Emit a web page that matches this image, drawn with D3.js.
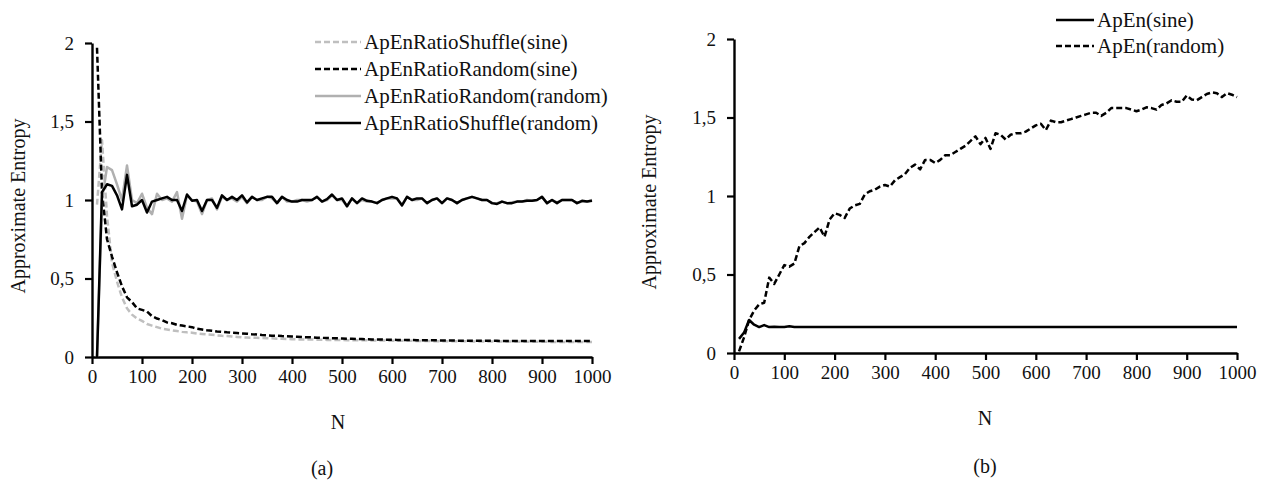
<!DOCTYPE html>
<html lang="en">
<head>
<meta charset="UTF-8">
<title>Approximate Entropy</title>
<script src="https://d3js.org/d3.v7.min.js"></script>
<style>
    body { margin: 0; background: #fff; }
</style>
</head>
<body>
<div id="chart"></div>
<script>
// N values (sampling grid), 10 .. 1000
const nValues = d3.range(10, 1001, 10);

// (a) ratios
const shuffleSine = [
    0.97, 1.38, 0.90, 0.60, 0.48, 0.38, 0.31, 0.27, 0.245, 0.23,
    0.21, 0.20, 0.19, 0.18, 0.175, 0.17, 0.165, 0.16, 0.157, 0.155,
    0.15, 0.147, 0.144, 0.141, 0.138, 0.135, 0.133, 0.131, 0.128, 0.125,
    0.124, 0.123, 0.122, 0.121, 0.12, 0.119, 0.117, 0.116, 0.115, 0.113,
    0.112, 0.112, 0.111, 0.111, 0.11, 0.11, 0.109, 0.109, 0.108, 0.108,
    0.107, 0.107, 0.106, 0.106, 0.106, 0.105, 0.105, 0.105, 0.104, 0.104,
    0.104, 0.103, 0.103, 0.103, 0.102, 0.102, 0.102, 0.101, 0.101, 0.101,
    0.101, 0.100, 0.100, 0.100, 0.100, 0.099, 0.099, 0.099, 0.099, 0.099,
    0.098, 0.098, 0.098, 0.098, 0.098, 0.097, 0.097, 0.097, 0.097, 0.097,
    0.097, 0.096, 0.096, 0.096, 0.096, 0.096, 0.096, 0.096, 0.096, 0.096
];
const randomSine = [
    1.97, 1.05, 0.75, 0.64, 0.54, 0.45, 0.38, 0.35, 0.31, 0.30,
    0.29, 0.26, 0.245, 0.235, 0.22, 0.215, 0.205, 0.20, 0.195, 0.19,
    0.18, 0.175, 0.17, 0.167, 0.163, 0.16, 0.157, 0.155, 0.153, 0.15,
    0.148, 0.145, 0.143, 0.14, 0.138, 0.136, 0.135, 0.133, 0.132, 0.13,
    0.129, 0.127, 0.126, 0.125, 0.123, 0.122, 0.121, 0.12, 0.119, 0.118,
    0.117, 0.116, 0.115, 0.114, 0.113, 0.112, 0.112, 0.111, 0.11, 0.11,
    0.109, 0.109, 0.108, 0.108, 0.107, 0.107, 0.106, 0.106, 0.106, 0.105,
    0.105, 0.105, 0.104, 0.104, 0.104, 0.104, 0.103, 0.103, 0.103, 0.103,
    0.103, 0.102, 0.102, 0.102, 0.102, 0.102, 0.102, 0.102, 0.102, 0.102,
    0.102, 0.102, 0.102, 0.102, 0.102, 0.102, 0.102, 0.102, 0.102, 0.102
];
const randomRandom = [
    0, 1.00, 1.21, 1.19, 1.10, 1.00, 1.22, 1.00, 0.98, 1.04,
    0.95, 0.91, 1.04, 1.00, 1.01, 0.99, 1.05, 0.88, 1.03, 1.00,
    0.99, 0.91, 1.00, 1.01, 0.94, 1.02, 1.00, 1.01, 0.99, 1.02,
    0.98, 1.02, 1.00, 1.00, 1.02, 1.01, 0.98, 1.02, 0.99, 0.99,
    1.00, 1.00, 0.99, 1.00, 1.02, 0.99, 1.00, 1.03, 1.00, 1.00,
    0.96, 1.01, 0.98, 1.00, 0.99, 0.99, 0.98, 1.00, 1.01, 1.01,
    1.01, 0.97, 1.02, 1.00, 1.00, 1.01, 0.98, 1.00, 1.01, 0.98,
    1.01, 1.00, 0.98, 1.00, 1.01, 1.02, 1.01, 1.00, 1.00, 0.98,
    0.98, 0.99, 0.98, 0.985, 0.99, 0.99, 1.00, 0.995, 1.00, 1.02,
    0.98, 1.00, 0.985, 1.00, 1.00, 1.00, 0.98, 0.99, 0.99, 1.00
];
const shuffleRandom = [
    0, 1.05, 1.10, 1.09, 1.03, 0.94, 1.16, 0.96, 0.97, 1.00,
    0.92, 0.99, 1.00, 1.01, 1.02, 1.00, 1.00, 0.93, 1.035, 0.995,
    1.00, 0.93, 1.00, 1.00, 0.95, 1.03, 1.00, 1.02, 1.00, 1.03,
    0.985, 1.02, 1.00, 1.01, 1.02, 1.02, 0.98, 1.02, 1.00, 0.99,
    0.99, 1.00, 1.00, 1.00, 1.02, 0.99, 1.005, 1.035, 1.00, 1.01,
    0.96, 1.01, 0.98, 1.01, 0.995, 0.99, 0.98, 1.00, 1.01, 1.02,
    1.01, 0.965, 1.02, 1.00, 1.01, 1.01, 0.98, 1.00, 1.01, 0.98,
    1.01, 1.00, 0.98, 1.00, 1.01, 1.02, 1.01, 1.00, 1.00, 0.98,
    0.975, 0.99, 0.98, 0.98, 0.99, 0.99, 0.995, 0.995, 1.00, 1.02,
    0.98, 1.00, 0.98, 1.00, 1.00, 1.00, 0.98, 0.995, 0.99, 0.995
];

// (b) raw ApEn
const apenSine = [
    0.09, 0.13, 0.21, 0.18, 0.165, 0.178, 0.165, 0.167, 0.166, 0.166,
    0.17, 0.166, 0.165, 0.165, 0.165, 0.165, 0.165, 0.165, 0.165, 0.165,
    0.165, 0.165, 0.165, 0.165, 0.165, 0.165, 0.165, 0.165, 0.165, 0.165,
    0.165, 0.165, 0.165, 0.165, 0.165, 0.165, 0.165, 0.165, 0.165, 0.165,
    0.165, 0.165, 0.165, 0.165, 0.165, 0.165, 0.165, 0.165, 0.165, 0.165,
    0.165, 0.165, 0.165, 0.165, 0.165, 0.165, 0.165, 0.165, 0.165, 0.165,
    0.165, 0.165, 0.165, 0.165, 0.165, 0.165, 0.165, 0.165, 0.165, 0.165,
    0.165, 0.165, 0.165, 0.165, 0.165, 0.165, 0.165, 0.165, 0.165, 0.165,
    0.165, 0.165, 0.165, 0.165, 0.165, 0.165, 0.165, 0.165, 0.165, 0.165,
    0.165, 0.165, 0.165, 0.165, 0.165, 0.165, 0.165, 0.165, 0.165, 0.165
];
const apenRandom = [
    0.01, 0.10, 0.21, 0.27, 0.31, 0.32, 0.48, 0.44, 0.50, 0.56,
    0.55, 0.57, 0.68, 0.70, 0.74, 0.77, 0.80, 0.74, 0.85, 0.89,
    0.88, 0.86, 0.92, 0.94, 0.95, 1.01, 1.03, 1.04, 1.06, 1.07,
    1.06, 1.10, 1.12, 1.14, 1.18, 1.20, 1.17, 1.23, 1.23, 1.21,
    1.23, 1.26, 1.26, 1.28, 1.30, 1.32, 1.35, 1.38, 1.33, 1.37,
    1.30, 1.40, 1.39, 1.36, 1.39, 1.40, 1.40, 1.41, 1.43, 1.45,
    1.46, 1.42, 1.48, 1.47, 1.47, 1.48, 1.49, 1.50, 1.51, 1.52,
    1.53, 1.53, 1.51, 1.53, 1.56, 1.56, 1.56, 1.56, 1.55, 1.54,
    1.55, 1.565, 1.56, 1.55, 1.58, 1.59, 1.61, 1.60, 1.60, 1.64,
    1.615, 1.61, 1.63, 1.65, 1.66, 1.655, 1.63, 1.655, 1.645, 1.63
];

const xTicks = [0, 100, 200, 300, 400, 500, 600, 700, 800, 900, 1000];
const xTickLabels = ["0", "100", "200", "300", "400", "500", "600", "700", "800", "900", "1000"];
const yTicks = [0, 0.5, 1, 1.5, 2];
const yTickLabels = ["0", "0,5", "1", "1,5", "2"];

const legendA = ["ApEnRatioShuffle(sine)", "ApEnRatioRandom(sine)", "ApEnRatioRandom(random)", "ApEnRatioShuffle(random)"];
const legendB = ["ApEn(sine)", "ApEn(random)"];

const serif = "'Liberation Serif', 'Times New Roman', 'DejaVu Serif', serif";

const svg = d3.select("#chart").append("svg")
    .attr("width", 1266)
    .attr("height", 490)
    .attr("font-family", serif);

function drawPanel(opt) {
    const x = d3.scaleLinear().domain([0, 1000]).range([opt.left, opt.right]);
    const y = d3.scaleLinear().domain([0, 2]).range([opt.bottom, opt.top]);
    const g = svg.append("g");

    // axes
    const xAxis = g.append("g")
        .attr("transform", `translate(0,${opt.bottom})`)
        .call(d3.axisBottom(x).tickValues(xTicks).tickSize(7).tickSizeOuter(0).tickPadding(6)
            .tickFormat((d, i) => xTickLabels[i]));
    const yAxis = g.append("g")
        .attr("transform", `translate(${opt.left},0)`)
        .call(d3.axisLeft(y).tickValues(yTicks).tickSize(7).tickSizeOuter(0).tickPadding(11)
            .tickFormat((d, i) => yTickLabels[i]));
    [xAxis, yAxis].forEach(a => {
        a.attr("font-family", serif).attr("font-size", 19);
        a.select(".domain").attr("stroke", "#000").attr("stroke-width", 2.4);
        a.selectAll(".tick line").attr("stroke", "#000").attr("stroke-width", 2.2);
        a.selectAll(".tick text").attr("fill", "#111");
    });

    // series
    const line = d3.line().x((d, i) => x(nValues[i])).y(d => y(d));
    opt.series.forEach(s => {
        g.append("path")
            .datum(s.values)
            .attr("fill", "none")
            .attr("stroke", s.color)
            .attr("stroke-width", 2.5)
            .attr("stroke-linejoin", "round")
            .attr("stroke-dasharray", s.dash ? "6,3" : null)
            .attr("d", line);
    });

    // axis titles
    g.append("text")
        .attr("transform", `translate(${opt.yTitleX},${(opt.top + opt.bottom) / 2 + 6}) rotate(-90)`)
        .attr("text-anchor", "middle")
        .attr("font-size", 20)
        .attr("fill", "#111")
        .text("Approximate Entropy");
    g.append("text")
        .attr("x", opt.nX).attr("y", opt.nY)
        .attr("text-anchor", "middle")
        .attr("font-size", 20)
        .attr("fill", "#111")
        .text("N");
    g.append("text")
        .attr("x", opt.capX).attr("y", opt.capY)
        .attr("text-anchor", "middle")
        .attr("font-size", 20)
        .attr("fill", "#111")
        .text(opt.caption);

    // legend
    const lg = g.append("g");
    opt.legend.forEach((name, i) => {
        const s = opt.series[opt.legendOrder[i]];
        const ly = opt.legY + i * opt.legStep;
        lg.append("line")
            .attr("x1", opt.legX).attr("x2", opt.legX + opt.legLen)
            .attr("y1", ly).attr("y2", ly)
            .attr("stroke", s.color)
            .attr("stroke-width", 2.5)
            .attr("stroke-dasharray", s.dash ? "6,3" : null);
        lg.append("text")
            .attr("x", opt.legX + opt.legLen + 3).attr("y", ly + 7)
            .attr("font-size", 21)
            .attr("fill", "#111")
            .text(name);
    });
}

drawPanel({
    left: 92, right: 592, top: 43, bottom: 357,
    yTitleX: 25, nX: 338, nY: 429, capX: 322, capY: 475, caption: "(a)",
    series: [
        { values: shuffleSine, color: "#bfbfbf", dash: true },
        { values: randomSine, color: "#000", dash: true },
        { values: randomRandom, color: "#b0b0b0", dash: false },
        { values: shuffleRandom, color: "#000", dash: false }
    ],
    legend: legendA, legendOrder: [0, 1, 2, 3],
    legX: 315, legLen: 46, legY: 42, legStep: 27
});

drawPanel({
    left: 734, right: 1237, top: 39, bottom: 353,
    yTitleX: 656, nX: 985, nY: 425, capX: 985, capY: 473, caption: "(b)",
    series: [
        { values: apenSine, color: "#000", dash: false },
        { values: apenRandom, color: "#000", dash: true }
    ],
    legend: legendB, legendOrder: [0, 1],
    legX: 1056, legLen: 38, legY: 20, legStep: 26
});
</script>
</body>
</html>
